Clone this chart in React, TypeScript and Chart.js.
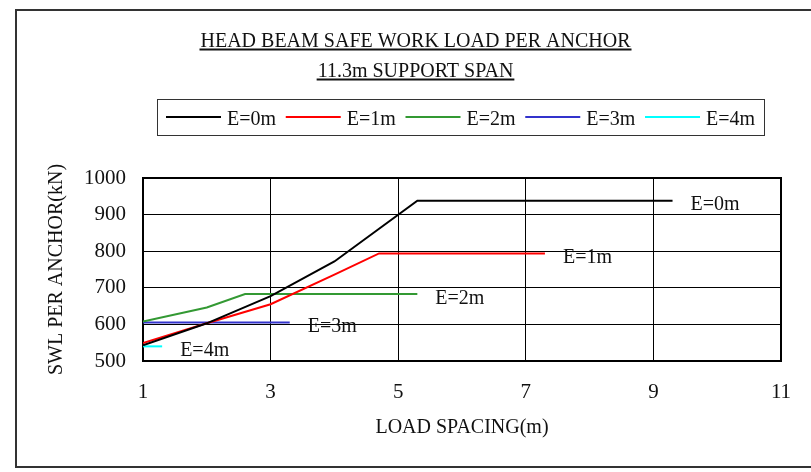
import React, { useEffect, useRef } from 'react';
import { Chart, registerables } from 'chart.js';

Chart.register(...registerables);

// ---- data ----
const seriesLabels = ['E=0m', 'E=1m', 'E=2m', 'E=3m', 'E=4m'];
const seriesColors = ['#000000', '#ff0000', '#339933', '#3333cc', '#00ffff'];

const e0Spacing = [1, 2, 3, 4, 5.3, 9.3];
const e0Load = [543, 603, 677, 772, 938, 938];
const e1Spacing = [1, 2, 3, 4, 4.7, 7.3];
const e1Load = [549, 603, 655, 736, 794, 794];
const e2Spacing = [1, 2, 2.6, 5.3];
const e2Load = [608, 646, 683, 683];
const e3Spacing = [1, 3.3];
const e3Load = [605, 605];
const e4Spacing = [1, 1.3];
const e4Load = [540, 540];

const xTicks = [1, 3, 5, 7, 9, 11];
const yTicks = [500, 600, 700, 800, 900, 1000];

const titleLines = ['HEAD BEAM SAFE WORK LOAD PER ANCHOR', '11.3m SUPPORT SPAN'];
const xTitle = 'LOAD SPACING(m)';
const yTitle = 'SWL PER ANCHOR(kN)';

const spacings = [e0Spacing, e1Spacing, e2Spacing, e3Spacing, e4Spacing];
const loads = [e0Load, e1Load, e2Load, e3Load, e4Load];

const FONT = '"Liberation Serif", "Times New Roman", serif';

const decor = {
  id: 'decor',
  beforeDatasetsDraw(chart: any) {
    const { ctx, chartArea: a } = chart;
    ctx.save();
    ctx.strokeStyle = '#000';
    ctx.lineWidth = 2;
    ctx.strokeRect(a.left, a.top, a.right - a.left, a.bottom - a.top);
    ctx.restore();
  },
  afterDraw(chart: any) {
    const { ctx } = chart;
    ctx.save();
    // outer frame
    ctx.strokeStyle = '#333';
    ctx.lineWidth = 2;
    ctx.strokeRect(16, 10, 800, 457);

    // titles with underline
    ctx.font = `20px ${FONT}`;
    ctx.fillStyle = '#111';
    ctx.textAlign = 'center';
    ctx.textBaseline = 'alphabetic';
    const cx = 415.5;
    const baselines = [47, 77];
    titleLines.forEach((t, i) => {
      ctx.fillText(t, cx, baselines[i]);
      const w = ctx.measureText(t).width;
      ctx.fillRect(cx - w / 2 - 1, baselines[i] + 1.5, w + 2, 2);
    });

    // legend
    ctx.strokeStyle = '#333';
    ctx.lineWidth = 1;
    ctx.strokeRect(157.5, 99.5, 607, 36);
    ctx.textAlign = 'left';
    ctx.textBaseline = 'alphabetic';
    seriesLabels.forEach((lab, i) => {
      const x0 = 166 + i * 119.75;
      ctx.strokeStyle = seriesColors[i];
      ctx.lineWidth = 2;
      ctx.beginPath();
      ctx.moveTo(x0, 117);
      ctx.lineTo(x0 + 55, 117);
      ctx.stroke();
      ctx.fillStyle = '#111';
      ctx.fillText(lab, x0 + 61, 125);
    });

    // end labels
    ctx.fillStyle = '#111';
    chart.data.datasets.forEach((ds: any, i: number) => {
      const meta = chart.getDatasetMeta(i);
      const last = meta.data[meta.data.length - 1];
      ctx.fillText(seriesLabels[i], last.x + 18, last.y + 9.5);
    });
    ctx.restore();
  },
};

export default function App() {
  const ref = useRef<HTMLCanvasElement | null>(null);
  useEffect(() => {
    if (!ref.current) return;
    const chart = new Chart(ref.current, {
      type: 'line',
      data: {
        datasets: seriesLabels.map((lab, i) => ({
          label: lab,
          data: spacings[i].map((x, j) => ({ x, y: loads[i][j] })),
          borderColor: seriesColors[i],
          backgroundColor: seriesColors[i],
          borderWidth: 2,
          pointRadius: 0,
          tension: 0,
          fill: false,
        })),
      },
      options: {
        responsive: false,
        animation: false,
        devicePixelRatio: 1,
        layout: { padding: { top: 178, left: 30, right: 30, bottom: 21 } },
        plugins: {
          legend: { display: false },
          tooltip: { enabled: false },
          title: { display: false },
        },
        scales: {
          x: {
            type: 'linear',
            min: 1,
            max: 11,
            afterBuildTicks: (s: any) => {
              s.ticks = xTicks.map((v) => ({ value: v }));
            },
            afterFit: (s: any) => {
              s.height = 90;
            },
            ticks: {
              padding: 19,
              color: '#111',
              font: { family: FONT, size: 21 },
              callback: (v: any) => String(v),
            },
            grid: { color: '#000', lineWidth: 1, drawTicks: false },
            border: { display: false },
            title: {
              display: true,
              text: xTitle,
              color: '#111',
              font: { family: FONT, size: 20 },
              padding: { top: 0, bottom: 11 },
            },
          },
          y: {
            type: 'linear',
            min: 500,
            max: 1000,
            afterBuildTicks: (s: any) => {
              s.ticks = yTicks.map((v) => ({ value: v }));
            },
            afterFit: (s: any) => {
              s.width = 113;
            },
            ticks: {
              padding: 17,
              color: '#111',
              font: { family: FONT, size: 21 },
              callback: (v: any) => String(v),
            },
            grid: { color: '#000', lineWidth: 1, drawTicks: false },
            border: { display: false },
            title: {
              display: true,
              text: yTitle,
              color: '#111',
              font: { family: FONT, size: 20 },
              padding: { top: 15, bottom: 0 },
            },
          },
        },
      },
      plugins: [decor],
    } as any);
    return () => chart.destroy();
  }, []);
  return (
    <div style={{ position: 'fixed', left: 0, top: 0, width: 811, height: 472, background: '#fff' }}>
      <canvas ref={ref} width={811} height={472} style={{ display: 'block', width: 811, height: 472 }} />
    </div>
  );
}
